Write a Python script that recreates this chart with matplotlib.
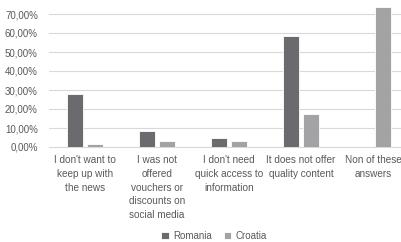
import matplotlib.pyplot as plt
import numpy as np
from matplotlib.ticker import FuncFormatter

plt.rcParams['font.family'] = ['Liberation Sans', 'DejaVu Sans']

categories = ["I don't want to\nkeep up with\nthe news",
              "I was not\noffered\nvouchers or\ndiscounts on\nsocial media",
              "I don't need\nquick access to\ninformation",
              "It does not offer\nquality content",
              "Non of these\nanswers"]
romania = [27.7, 8.4, 4.9, 58.4, 0.0]
croatia = [1.6, 3.3, 3.3, 17.2, 73.5]

W, H = 402, 242
fig = plt.figure(figsize=(W / 100, H / 100), dpi=100)
# plot area runs past the right edge (cropped like the original)
ymax = 75
ax = fig.add_axes([49 / W, 1 - 147 / H, (409 - 49) / W, ymax * 1.9 / H])

x = np.arange(len(categories))
bw = 0.225
ax.bar(x - 0.14, romania, bw, color='#6b6b6f', edgecolor='white', linewidth=0.6,
       label='Romania', zorder=3)
ax.bar(x + 0.14, croatia, bw, color='#a3a3a6', edgecolor='white', linewidth=0.6,
       label='Croatia', zorder=3)

ax.set_xlim(-0.5, len(categories) - 0.5)
ax.set_ylim(0, ymax)
ax.set_yticks(np.arange(0, 71, 10))
ax.yaxis.set_major_formatter(FuncFormatter(lambda v, p: f"{v:.2f}%".replace('.', ',')))
ax.grid(axis='y', color='#d9d9d9', linewidth=0.8, zorder=0)
for s in ['top', 'right', 'left']:
    ax.spines[s].set_visible(False)
ax.spines['bottom'].set_color('#d9d9d9')
ax.spines['bottom'].set_linewidth(0.8)

ax.set_xticks(x)
ax.set_xticklabels(categories, fontsize=7.2, color='#595959', linespacing=1.45, va='top')
ax.tick_params(axis='x', length=0, pad=6)
ax.tick_params(axis='y', length=0, pad=8, labelsize=7, labelcolor='#595959')

fig.legend(loc='center', bbox_to_anchor=(214 / W, 1 - 236 / H), ncol=2, frameon=False,
           fontsize=7, labelcolor='#595959', handlelength=0.8, handleheight=0.8,
           handletextpad=0.4, columnspacing=1.2)

fig.savefig('out.png', dpi=100)
